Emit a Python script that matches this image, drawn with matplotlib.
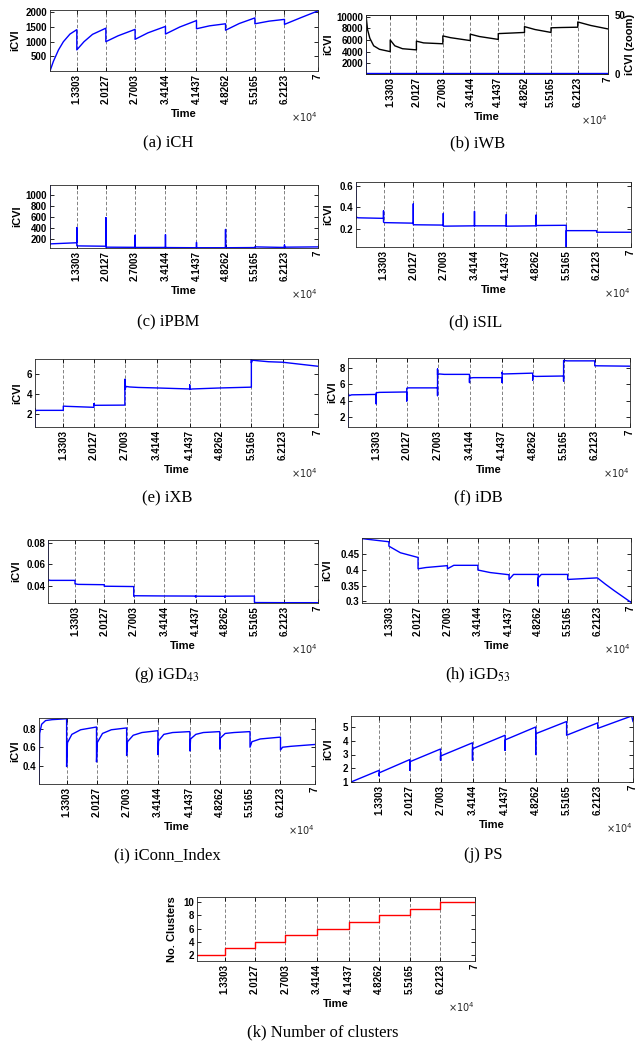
import matplotlib
matplotlib.use('Agg')
import matplotlib.pyplot as plt

plt.rcParams['font.family'] = ['Liberation Sans', 'DejaVu Sans']

# change points (time) and their tick labels (x 1e4)
bounds = [7000, 13303, 20127, 27003, 34144, 41437, 48262, 55165, 62123, 70000]
tick_labels = ['1.3303', '2.0127', '2.7003', '3.4144', '4.1437', '4.8262', '5.5165', '6.2123', '7']

# (a) iCH
ch_t = [7000, 7800, 9000, 10150, 11700, 13303,
        13303, 15000, 17000, 20127,
        20127, 23000, 27003,
        27003, 30000, 34144,
        34144, 37500, 41437,
        41437, 44500, 48262,
        48262, 51500, 55165,
        55165, 58500, 62123,
        62123, 66000, 70000]
ch_v = [0, 330, 720, 1000, 1260, 1410,
        720, 1000, 1250, 1460,
        1000, 1200, 1420,
        1080, 1300, 1520,
        1260, 1500, 1720,
        1440, 1540, 1610,
        1390, 1620, 1810,
        1610, 1700, 1760,
        1590, 1820, 2050]

# (b) iWB (left axis) and zoomed copy (right axis)
wb_t = [7000, 7400, 8000, 9000, 10500, 13303,
        13303, 14500, 16500, 20127,
        20127, 22000, 27003,
        27003, 29000, 34144,
        34144, 36500, 41437,
        41437, 45000, 48262,
        48262, 51000, 55165,
        55165, 58000, 62123,
        62123, 65500, 70000]
wb_v = [10300, 7800, 6300, 5000, 4400, 4000,
        6000, 5000, 4500, 4300,
        5800, 5500, 5350,
        6700, 6400, 5900,
        7000, 6600, 6100,
        7100, 7200, 7300,
        8300, 7800, 7300,
        8100, 8150, 8200,
        9100, 8500, 7900]
wbz_t = [7000, 7030, 70000]
wbz_v = [20, 0.3, 0.3]

# (c) iPBM
pbm_t = [7000, 7000, 7150, 13303,
         13303, 13303, 13450, 20127,
         20127, 20127, 20300, 27003,
         27003, 27003, 27200, 34144,
         34144, 34144, 34300, 41437,
         41437, 41437, 41600, 48262,
         48262, 48262, 48400, 55165,
         55165, 62123,
         62123, 62123, 62300, 70000]
pbm_v = [1180, 95, 115, 135,
         410, 80, 78, 72,
         590, 55, 55, 52,
         270, 50, 50, 50,
         280, 50, 48, 45,
         140, 45, 45, 45,
         375, 45, 45, 48,
         60, 50,
         95, 55, 55, 60]

# (d) iSIL
sil_t = [7000, 7000, 7150, 7500, 13303,
         13303, 13303, 13500, 20127,
         20127, 20127, 20300, 27003,
         27003, 27003, 27200, 34144,
         34144, 34144, 34300, 41437,
         41437, 41437, 41600, 48262,
         48262, 48262, 48400, 55165,
         55165, 55165, 55300, 62123,
         62123, 62300, 70000]
sil_v = [0.62, 0.29, 0.305, 0.30, 0.295,
         0.365, 0.26, 0.255, 0.25,
         0.43, 0.235, 0.235, 0.232,
         0.34, 0.222, 0.222, 0.225,
         0.36, 0.225, 0.225, 0.225,
         0.33, 0.22, 0.222, 0.225,
         0.325, 0.225, 0.228, 0.23,
         0.027, 0.18, 0.18, 0.18,
         0.165, 0.165, 0.165]

# (e) iXB
xb_t = [7000, 7000, 7200, 7500, 13303,
        13303, 13303, 14000, 20127,
        20127, 20127, 20400, 27003,
        27003, 27003, 27300, 28000, 30000, 34144, 41437,
        41437, 41437, 42000, 48262, 55165,
        55165, 55165, 55400, 56500, 59000, 62123, 70000]
xb_v = [0.73, 2.55, 2.35, 2.38, 2.38,
        2.75, 2.8, 2.78, 2.68,
        3.05, 2.9, 2.88, 2.9,
        5.45, 4.45, 4.75, 4.7, 4.65, 4.6, 4.5,
        4.9, 4.45, 4.5, 4.6, 4.68,
        7.45, 7.1, 7.35, 7.3, 7.2, 7.15, 6.75]

# (f) iDB
db_t = [7000, 7000, 7300, 7800,
        13303, 13303, 13303, 14000,
        20127, 20127, 20127, 20500,
        27003, 27003, 27003, 27003, 27400, 28500,
        34144, 34144, 34144, 35000,
        41437, 41437, 41437, 41437, 41800,
        48262, 48262, 48262, 49000,
        55165, 55165, 55165, 56000,
        62123, 62123, 70000]
db_v = [0.77, 4.85, 4.6, 4.7,
        4.75, 3.6, 4.95, 5.0,
        5.05, 3.95, 5.5, 5.55,
        5.55, 4.6, 7.85, 7.15, 7.25, 7.2,
        7.2, 6.2, 6.75, 6.8,
        6.8, 6.2, 7.45, 7.3, 7.25,
        7.35, 6.5, 7.0, 6.95,
        7.0, 6.4, 8.9, 8.85,
        8.85, 8.25, 8.2]

# (g) iGD43
g43_t = [7000, 7000, 7200, 7600,
         13303, 13303, 13303, 14000,
         20127, 20127, 20127,
         27003, 27003, 27003, 27300,
         34144,
         41437, 41437, 41437,
         48262, 48262, 48262,
         55165, 55165, 55500,
         62123, 70000]
g43_v = [0.0825, 0.0440, 0.0455, 0.0452,
         0.0452, 0.0425, 0.0420, 0.0415,
         0.0412, 0.0400, 0.0398,
         0.0395, 0.0330, 0.0305, 0.0310,
         0.0308,
         0.0307, 0.0300, 0.0306,
         0.0305, 0.0298, 0.0306,
         0.0307, 0.0250, 0.0247,
         0.0246, 0.0246]

# (h) iGD53
g53_t = [7000,
         13303, 13303, 16000, 20127,
         20127, 22000, 27003,
         27003, 28500, 34144,
         34144, 37000, 41437,
         41437, 42500, 48262,
         48262, 48262, 49000, 55165,
         55165, 62123,
         64000, 66000, 68000, 70000]
g53_v = [0.500,
         0.490, 0.476, 0.455, 0.440,
         0.404, 0.408, 0.414,
         0.404, 0.415, 0.415,
         0.400, 0.392, 0.385,
         0.370, 0.386, 0.386,
         0.350, 0.375, 0.386, 0.386,
         0.370, 0.375,
         0.355, 0.335, 0.316, 0.297]

# (i) iConn_Index
cn_t = [7000, 7150, 7600, 8500, 10000, 13303,
        13303, 13500, 14500, 16500, 20127,
        20127, 20300, 21500, 23500, 27003,
        27003, 27200, 28500, 30500, 34144,
        34144, 34300, 35500, 37500, 41437,
        41437, 41600, 42800, 44500, 48262,
        48262, 48400, 49500, 51500, 55165,
        55165, 55600, 57500, 62123,
        62123, 62600, 64500, 70000]
cn_v = [0.20, 0.75, 0.85, 0.89, 0.90, 0.91,
        0.39, 0.65, 0.74, 0.79, 0.82,
        0.44, 0.65, 0.75, 0.79, 0.81,
        0.51, 0.66, 0.73, 0.76, 0.78,
        0.52, 0.67, 0.74, 0.76, 0.77,
        0.56, 0.69, 0.74, 0.76, 0.77,
        0.58, 0.70, 0.75, 0.76, 0.77,
        0.60, 0.66, 0.69, 0.71,
        0.57, 0.60, 0.61, 0.63]

# (j) PS
ps_t = [7000,
        13303, 13303, 13303, 13400,
        20127, 20127, 20127, 20200,
        27003, 27003, 27003, 27100,
        34144, 34144, 34144, 34250,
        41437, 41437, 41437, 41550,
        48262, 48262, 48262, 48400,
        55165, 55165,
        62123, 62123,
        69700, 70000]
ps_v = [1.0,
        1.85, 1.45, 1.65, 1.68,
        2.63, 1.85, 2.46, 2.48,
        3.40, 2.58, 2.88, 2.90,
        3.85, 2.58, 3.40, 3.43,
        4.40, 3.30, 4.05, 4.08,
        5.00, 3.00, 4.50, 4.53,
        5.40, 4.40,
        5.30, 4.90,
        5.80, 5.40]

# (k) number of clusters per interval
n_clusters = [2, 3, 4, 5, 6, 7, 8, 9, 10]

W, H = 636, 1045
fig = plt.figure(figsize=(W / 100, H / 100), dpi=100)


def fx(x):
    return x / W


def fy(y):
    return 1 - y / H


def style_spines(ax):
    for s in ax.spines.values():
        s.set_linewidth(0.6)
        s.set_color('#262626')


def panel(rect, ylim, yticks, ylab_x, caption, cap_xy, ylabel='iCVI', right_ticks=True):
    l, t, r, b = rect
    ax = fig.add_axes([fx(l), fy(b), (r - l) / W, (b - t) / H])
    ax.set_xlim(bounds[0], bounds[-1])
    ax.set_ylim(ylim)
    ax.set_xticks(bounds[1:])
    ax.set_xticklabels(tick_labels, rotation=90)
    ax.set_yticks(yticks)
    ax.yaxis.set_major_formatter('{x:g}')
    ax.xaxis.grid(True, linestyle=(0, (4, 2.5)), color='#6e6e6e', lw=0.6)
    ax.tick_params(direction='in', length=3, width=0.6, top=True, right=right_ticks,
                   labelsize=7, pad=2)
    for lab in ax.get_xticklabels() + ax.get_yticklabels():
        lab.set_fontweight('bold')
    style_spines(ax)
    fig.text(fx(ylab_x), fy((t + b) / 2), ylabel, rotation=90, ha='center', va='center',
             fontsize=8, fontweight='bold')
    fig.text(fx((l + r) / 2), fy(b + 43), 'Time', ha='center', va='center',
             fontsize=8, fontweight='bold')
    fig.text(fx(r), fy(b + 46), r'$\times10^{4}$', ha='right', va='center', fontsize=7,
             color='#262626')
    fig.text(fx(cap_xy[0]), fy(cap_xy[1]), caption, family='Liberation Serif',
             math_fontfamily='stix', fontsize=12, ha='center', va='center')
    return ax


ax = panel((50, 10, 318, 71), (0, 2080), [500, 1000, 1500, 2000], 15, '(a) iCH', (168, 143))
ax.plot(ch_t, ch_v, color='b', lw=1)

ax = panel((366, 15, 608, 74), (150, 10300), [2000, 4000, 6000, 8000, 10000], 328,
           '(b) iWB', (478, 143), right_ticks=False)
ax.plot(wb_t, wb_v, color='k', lw=1)
ax2 = ax.twinx()
ax2.plot(wbz_t, wbz_v, color='b', lw=1.2)
ax2.set_ylim(0, 50)
ax2.set_yticks([0, 50])
ax2.tick_params(direction='in', length=3, width=0.6, labelsize=7, pad=5)
for lab in ax2.get_yticklabels():
    lab.set_fontweight('bold')
style_spines(ax2)
fig.text(fx(630), fy(44), 'iCVI (zoom)', rotation=90, ha='center', va='center',
         fontsize=8, fontweight='bold')

ax = panel((50, 185, 318, 248), (40, 1180), [200, 400, 600, 800, 1000], 17,
           '(c) iPBM', (168, 322))
ax.plot(pbm_t, pbm_v, color='b', lw=1)

ax = panel((356, 182, 631, 247), (0.027, 0.635), [0.2, 0.4, 0.6], 328,
           '(d) iSIL', (476, 322))
ax.plot(sil_t, sil_v, color='b', lw=1)

ax = panel((35, 359, 318, 427), (0.73, 7.47), [2, 4, 6], 17, '(e) iXB', (167, 498))
ax.plot(xb_t, xb_v, color='b', lw=1)

ax = panel((348, 358, 630, 427), (0.77, 9.2), [2, 4, 6, 8], 332, '(f) iDB', (478, 498))
ax.plot(db_t, db_v, color='b', lw=1)

ax = panel((48, 540, 318, 603), (0.0243, 0.0825), [0.04, 0.06, 0.08], 16,
           '(g) iGD$_{43}$', (167, 675))
ax.plot(g43_t, g43_v, color='b', lw=1)

ax = panel((362, 538, 631, 603), (0.295, 0.502), [0.3, 0.35, 0.4, 0.45], 327,
           '(h) iGD$_{53}$', (478, 675))
ax.plot(g53_t, g53_v, color='b', lw=1)

ax = panel((39, 718, 315, 784), (0.2, 0.918), [0.4, 0.6, 0.8], 15,
           '(i) iConn_Index', (167, 855))
ax.plot(cn_t, cn_v, color='b', lw=1)

ax = panel((351, 716, 633, 782), (1.0, 5.8), [1, 2, 3, 4, 5], 328, '(j) PS', (483, 855))
ax.plot(ps_t, ps_v, color='b', lw=1)

ax = panel((197, 897, 475, 961), (1.1, 10.8), [2, 4, 6, 8, 10], 172,
           '(k) Number of clusters', (323, 1032), ylabel='No. Clusters')
ax.step(bounds, n_clusters + [n_clusters[-1]], where='post', color='r', lw=1)

fig.savefig('out.png', dpi=100)
